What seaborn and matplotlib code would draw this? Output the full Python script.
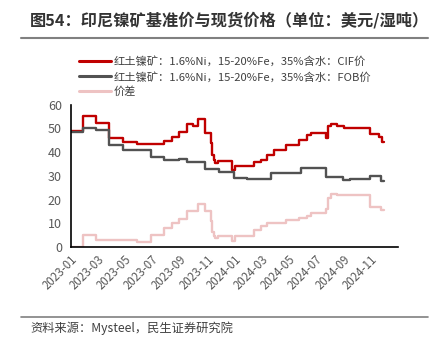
import matplotlib
matplotlib.use("Agg")
import matplotlib.pyplot as plt
import matplotlib.dates as mdates
from matplotlib.lines import Line2D
import pandas as pd
import seaborn as sns

sns.set_theme(style="white")
plt.rcParams['font.family'] = ['Noto Sans CJK SC', 'DejaVu Sans']
plt.rcParams['axes.unicode_minus'] = False

# ---- data (change points, step series) ----
cif_dates = ["2023-01-01", "2023-01-27", "2023-02-27", "2023-03-28", "2023-04-27", "2023-05-29",
             "2023-07-27", "2023-08-15", "2023-08-31", "2023-09-18", "2023-10-01", "2023-10-12",
             "2023-10-28", "2023-11-09", "2023-11-12", "2023-11-16", "2023-11-20", "2023-11-25",
             "2023-12-26", "2024-01-02", "2024-02-15", "2024-02-29", "2024-03-15", "2024-03-29",
             "2024-04-26", "2024-05-25", "2024-06-12", "2024-06-21", "2024-07-06", "2024-07-24",
             "2024-07-28", "2024-08-05", "2024-08-18", "2024-09-03", "2024-10-30", "2024-11-20",
             "2024-11-26", "2024-11-30"]
cif_values = [49.0, 55.3, 52.4, 45.8, 44.2, 43.3,
              44.5, 46.5, 48.6, 51.8, 51.0, 54.0,
              48.0, 44.0, 39.0, 36.6, 35.6, 36.3,
              32.3, 34.0, 35.7, 36.7, 38.7, 40.7,
              42.8, 45.3, 47.2, 47.9, 48.2, 45.8,
              51.2, 51.8, 51.0, 50.3, 47.5, 46.5,
              44.2, 44.2]

fob_dates = ["2023-01-01", "2023-01-27", "2023-02-27", "2023-03-28", "2023-04-27", "2023-06-29",
             "2023-07-27", "2023-08-31", "2023-09-18", "2023-10-28", "2023-11-27", "2023-12-31",
             "2024-01-29", "2024-03-24", "2024-05-30", "2024-07-24", "2024-08-31", "2024-09-15",
             "2024-10-30", "2024-11-24", "2024-11-30"]
fob_values = [48.5, 50.3, 49.3, 43.0, 41.1, 37.8,
              36.5, 36.9, 35.8, 33.0, 31.7, 28.9,
              28.5, 31.0, 33.4, 29.6, 28.2, 28.7,
              30.0, 28.0, 28.0]

diff_dates = ["2023-01-01", "2023-01-27", "2023-02-27", "2023-05-29", "2023-06-29", "2023-07-27",
              "2023-08-15", "2023-08-31", "2023-09-18", "2023-10-12", "2023-10-28", "2023-11-09",
              "2023-11-12", "2023-11-16", "2023-11-20", "2023-11-25", "2023-12-26", "2024-01-02",
              "2024-02-15", "2024-02-29", "2024-03-15", "2024-04-26", "2024-05-25", "2024-06-12",
              "2024-06-21", "2024-07-24", "2024-07-28", "2024-08-05", "2024-08-18", "2024-10-30",
              "2024-11-24", "2024-11-30"]
diff_values = [0.0, 5.0, 3.0, 2.0, 5.0, 8.0,
               10.0, 12.0, 15.0, 18.0, 15.0, 11.0,
               6.5, 4.5, 4.0, 4.7, 2.7, 4.7,
               7.2, 8.7, 10.0, 11.2, 12.4, 13.2,
               14.2, 16.0, 20.5, 22.5, 21.8, 16.8,
               15.8, 15.8]

labels = ["红土镍矿：1.6%Ni，15-20%Fe，35%含水：CIF价",
          "红土镍矿：1.6%Ni，15-20%Fe，35%含水：FOB价",
          "价差"]
colors = ["#C00000", "#525252", "#EEC3C3"]
tick_labels = ["2023-01", "2023-03", "2023-05", "2023-07", "2023-09", "2023-11",
               "2024-01", "2024-03", "2024-05", "2024-07", "2024-09", "2024-11"]

W, H = 433, 347
fig = plt.figure(figsize=(W / 100, H / 100), dpi=100)
ax = fig.add_axes([71 / W, 1 - 247 / H, (398 - 71) / W, (247 - 104.7) / H])

series = [(cif_dates, cif_values), (fob_dates, fob_values), (diff_dates, diff_values)]
for (d, v), lab, c in zip(series, labels, colors):
    df = pd.DataFrame({"date": pd.to_datetime(d), "value": v})
    sns.lineplot(data=df, x="date", y="value", ax=ax, color=c, linewidth=1.7,
                 drawstyle="steps-post", label=lab, legend=False)

ax.set_xlim(pd.Timestamp("2023-01-01"), pd.Timestamp("2025-01-01"))
ax.set_ylim(0, 60)
ax.set_yticks(range(0, 61, 10))
ax.set_xticks(pd.to_datetime([t + "-01" for t in tick_labels]))
ax.set_xticklabels(tick_labels, rotation=45, ha="right", rotation_mode="anchor",
                   fontsize=8.3, color="#595959")
ax.tick_params(axis="y", labelsize=9, colors="#595959", length=3, direction="out", width=1)
ax.tick_params(axis="x", length=4, direction="in", width=1, color="black", pad=4)
ax.set_xlabel("")
ax.set_ylabel("")
for s in ["top", "right"]:
    ax.spines[s].set_visible(False)
for s in ["left", "bottom"]:
    ax.spines[s].set_color("black")
    ax.spines[s].set_linewidth(1.2)
ax.grid(False)

handles = [Line2D([], [], color=c, linewidth=2.2) for c in colors]
fig.legend(handles, labels, loc="upper left", bbox_to_anchor=(79 / W, 1 - 56 / H),
           frameon=False, fontsize=8.1, handlelength=2.85, handletextpad=0.25,
           labelspacing=0.4, borderpad=0, borderaxespad=0, labelcolor="#404040")

fig.text(30 / W, 1 - 20 / H, "图54：印尼镍矿基准价与现货价格（单位：美元/湿吨）",
         fontsize=11.7, fontweight="bold", color="#333333", ha="left", va="center")
fig.add_artist(Line2D([21 / W, 428 / W], [1 - 38 / H] * 2, color="#808080", linewidth=1.5))
fig.add_artist(Line2D([21 / W, 428 / W], [1 - 317 / H] * 2, color="#808080", linewidth=1.2))
fig.text(30 / W, 1 - 328 / H, "资料来源：Mysteel，民生证券研究院",
         fontsize=8.8, color="#404040", ha="left", va="center")

fig.savefig("out.png", dpi=100)
